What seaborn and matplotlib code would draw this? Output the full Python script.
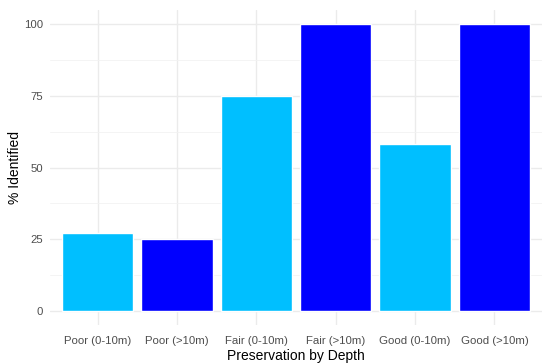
import matplotlib
matplotlib.use("Agg")
import matplotlib.pyplot as plt
import seaborn as sns
import pandas as pd
from matplotlib.ticker import MultipleLocator

# Datos
categories = ["Poor (0-10m)", "Poor (>10m)", "Fair (0-10m)",
              "Fair (>10m)", "Good (0-10m)", "Good (>10m)"]
pct_identified = [27.3, 25.0, 75.0, 100.0, 58.3, 100.0]
depth = ["0-10m", ">10m", "0-10m", ">10m", "0-10m", ">10m"]
depth_colors = {"0-10m": "#00BFFF", ">10m": "#0000FF"}

data = pd.DataFrame({"cat": categories, "pct": pct_identified, "depth": depth})

sns.set_theme(style="white")
plt.rcParams["font.family"] = ["Liberation Sans", "DejaVu Sans"]

fig = plt.figure(figsize=(5.5, 3.64), dpi=100)
ax = fig.add_axes([50 / 550, 39 / 364, 492 / 550, 315 / 364])

sns.barplot(data=data, x="cat", y="pct", hue="depth", palette=depth_colors,
            width=0.9, dodge=False, legend=False, saturation=1, ax=ax, zorder=2)

# Rejilla estilo minimal
ax.set_xlim(-0.6, len(categories) - 0.4)
ax.set_ylim(-5, 105)
ax.yaxis.set_major_locator(MultipleLocator(25))
ax.yaxis.set_minor_locator(MultipleLocator(12.5))
ax.grid(which="major", axis="both", color="#EBEBEB", linewidth=1.0, zorder=0)
ax.grid(which="minor", axis="y", color="#F2F2F2", linewidth=0.6, zorder=0)
ax.set_axisbelow(True)
for s in ax.spines.values():
    s.set_visible(False)

ax.tick_params(axis="both", which="both", length=0, labelsize=8.2, labelcolor="#4D4D4D")
ax.tick_params(axis="x", pad=8)
ax.tick_params(axis="y", pad=5)
ax.set_xlabel("Preservation by Depth", fontsize=10, color="black", va="center")
ax.set_ylabel("% Identified", fontsize=10, color="black", va="center")
ax.xaxis.set_label_coords(0.5, (325 - 356) / 315)
ax.yaxis.set_label_coords((15 - 50) / 492, 0.5)

fig.savefig("out.png", dpi=100)
